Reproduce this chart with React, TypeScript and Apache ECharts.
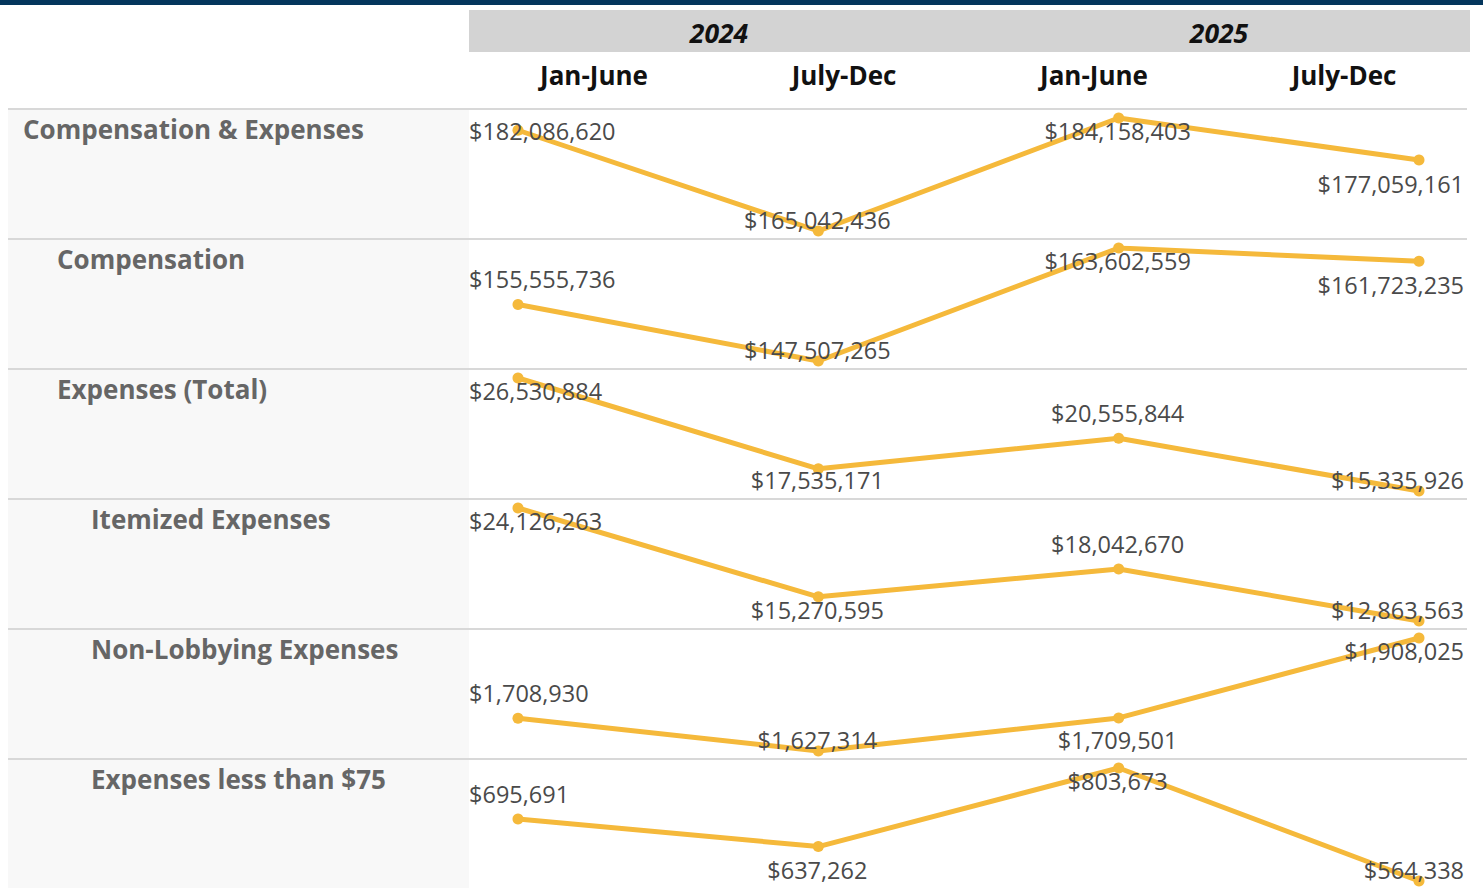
import React, { useEffect, useRef } from "react";
import * as echarts from "echarts";

const periods = ["Jan-June", "July-Dec", "Jan-June", "July-Dec"];
const years = ["2024", "2025"];
const rowLabels = [
  "Compensation & Expenses",
  "Compensation",
  "Expenses (Total)",
  "Itemized Expenses",
  "Non-Lobbying Expenses",
  "Expenses less than $75",
];
const rowIndent = [0, 1, 1, 2, 2, 2];

const compExp = [182086620, 165042436, 184158403, 177059161];
const compensation = [155555736, 147507265, 163602559, 161723235];
const expensesTotal = [26530884, 17535171, 20555844, 15335926];
const itemized = [24126263, 15270595, 18042670, 12863563];
const nonLobbying = [1708930, 1627314, 1709501, 1908025];
const lessThan75 = [695691, 637262, 803673, 564338];

const rows = [compExp, compensation, expensesTotal, itemized, nonLobbying, lessThan75];

const W = 1483;
const H = 888;
const ROW0 = 109;
const ROWH = 130;
const PLOT_PAD = 9;
const PLOT_H = 113;
const GRID_L = 518;
const GRID_R = 1419;
const COL_L = 469;
const RIGHT_EDGE = 1467;
const LINE_COLOR = "#f5b93b";
const FONT = "'Open Sans', 'Noto Sans', sans-serif";

export default function App() {
  const ref = useRef<HTMLDivElement>(null);
  useEffect(() => {
    if (!ref.current) return;
    const chart = echarts.init(ref.current, undefined, { renderer: "svg" });

    const grids: any[] = [];
    const xAxes: any[] = [];
    const yAxes: any[] = [];
    const series: any[] = [];
    rows.forEach((vals, r) => {
      const top = ROW0 + r * ROWH + PLOT_PAD;
      grids.push({ left: GRID_L, width: GRID_R - GRID_L, top, height: PLOT_H });
      xAxes.push({ type: "category", gridIndex: r, data: periods, boundaryGap: false, show: false });
      yAxes.push({ type: "value", gridIndex: r, min: Math.min(...vals), max: Math.max(...vals), show: false, splitLine: { show: false } });
      series.push({
        type: "line",
        xAxisIndex: r,
        yAxisIndex: r,
        data: vals,
        symbol: "circle",
        symbolSize: 11,
        lineStyle: { width: 5, color: LINE_COLOR },
        itemStyle: { color: LINE_COLOR },
        label: {
          show: true,
          position: "inside",
          formatter: (p: any) => "$" + Number(p.value).toLocaleString("en-US"),
          color: "#4a4a4a",
          fontSize: 23.5,
          fontFamily: FONT,
          textBorderWidth: 0,
        },
        labelLayout: (params: any) => {
          const s = params.seriesIndex;
          const i = params.dataIndex;
          const v = rows[s];
          const prev = i > 0 ? v[i - 1] : -Infinity;
          const next = i < v.length - 1 ? v[i + 1] : -Infinity;
          const above = v[i] >= prev && v[i] >= next;
          const cx = params.rect.x + params.rect.width / 2;
          const cy = params.rect.y + params.rect.height / 2;
          const gTop = ROW0 + s * ROWH + PLOT_PAD;
          const gBot = gTop + PLOT_H;
          let ly = above ? cy - 25 : cy + 24;
          ly = Math.max(gTop + 13, Math.min(gBot - 11, ly));
          const w = params.labelRect.width;
          let lx = cx - 1;
          if (lx - w / 2 < COL_L) lx = COL_L + w / 2;
          if (lx + w / 2 > RIGHT_EDGE - 3) lx = RIGHT_EDGE - 3 - w / 2;
          return { x: lx, y: ly, align: "center", verticalAlign: "middle" };
        },
      });
    });

    const graphic: any[] = [];
    graphic.push({ type: "rect", shape: { x: 0, y: 0, width: W, height: 5 }, style: { fill: "#04365c" }, z: 0 });
    graphic.push({ type: "rect", shape: { x: COL_L, y: 10, width: 1470 - COL_L, height: 42 }, style: { fill: "#d3d3d3" }, z: 0 });
    graphic.push({ type: "rect", shape: { x: 8, y: ROW0, width: COL_L - 8, height: H - ROW0 }, style: { fill: "#f8f8f8" }, z: 0 });
    years.forEach((y, k) => {
      graphic.push({
        type: "text",
        x: COL_L + 250 + k * 500,
        y: 33,
        style: { text: y, fill: "#111", font: `italic bold 26.5px ${FONT}`, align: "center", verticalAlign: "middle" },
        z: 1,
      });
    });
    periods.forEach((p, k) => {
      graphic.push({
        type: "text",
        x: COL_L + 125 + k * 250,
        y: 75,
        style: { text: p, fill: "#111", font: `bold 26px ${FONT}`, align: "center", verticalAlign: "middle" },
        z: 1,
      });
    });
    rows.forEach((_, r) => {
      const top = ROW0 + r * ROWH;
      graphic.push({
        type: "rect",
        shape: { x: 8, y: top - 1, width: RIGHT_EDGE - 8, height: 2 },
        style: { fill: "#d8d8d8" },
        z: 1,
      });
      graphic.push({
        type: "text",
        x: 23 + rowIndent[r] * 34,
        y: top + 20,
        style: { text: rowLabels[r], fill: "#666", font: `bold 26px ${FONT}`, align: "left", verticalAlign: "middle" },
        z: 1,
      });
    });

    chart.setOption({
      animation: false,
      backgroundColor: "#fff",
      grid: grids,
      xAxis: xAxes,
      yAxis: yAxes,
      series,
      graphic: { elements: graphic },
    });
    return () => chart.dispose();
  }, []);
  return <div ref={ref} style={{ position: "absolute", left: 0, top: 0, width: W, height: H }} />;
}
